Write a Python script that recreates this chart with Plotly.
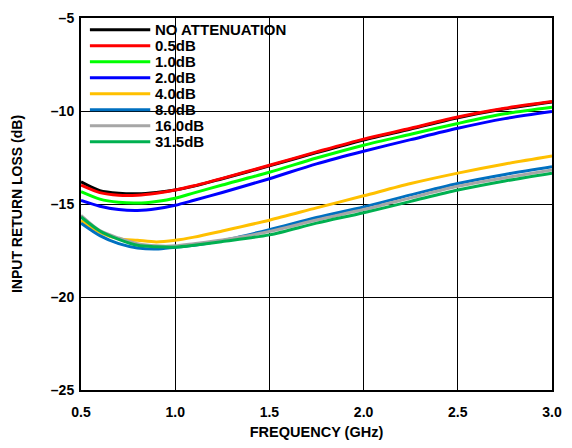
import plotly.graph_objects as go

freq = [0.5, 0.6, 0.7, 0.8, 0.9, 1.0, 1.1, 1.25, 1.5, 1.75, 2.0, 2.25, 2.5, 2.75, 3.0]

no_att = [-13.81, -14.28, -14.42, -14.45, -14.38, -14.25, -14.04, -13.64, -12.95, -12.24, -11.56, -10.97, -10.36, -9.88, -9.51]
att_0p5 = [-13.99, -14.39, -14.53, -14.53, -14.42, -14.25, -14.02, -13.62, -12.92, -12.20, -11.51, -10.93, -10.32, -9.85, -9.49]
att_1p0 = [-14.34, -14.74, -14.91, -14.95, -14.86, -14.69, -14.40, -13.98, -13.29, -12.53, -11.84, -11.25, -10.67, -10.15, -9.80]
att_2p0 = [-14.81, -15.12, -15.30, -15.35, -15.26, -15.07, -14.80, -14.38, -13.64, -12.84, -12.16, -11.54, -10.93, -10.41, -10.03]
att_4p0 = [-15.90, -16.52, -16.86, -16.95, -17.04, -16.95, -16.78, -16.45, -15.87, -15.21, -14.56, -13.90, -13.34, -12.85, -12.42]
att_8p0 = [-16.03, -16.70, -17.13, -17.36, -17.42, -17.32, -17.22, -16.97, -16.38, -15.73, -15.16, -14.51, -13.90, -13.41, -13.00]
att_16p0 = [-15.61, -16.43, -16.83, -17.13, -17.25, -17.25, -17.13, -16.93, -16.48, -15.86, -15.30, -14.67, -14.05, -13.59, -13.17]
att_31p5 = [-15.70, -16.45, -16.90, -17.22, -17.30, -17.32, -17.22, -17.02, -16.66, -16.03, -15.47, -14.86, -14.25, -13.76, -13.34]

series_names = ["NO ATTENUATION", "0.5dB", "1.0dB", "2.0dB", "4.0dB", "8.0dB", "16.0dB", "31.5dB"]
series_values = [no_att, att_0p5, att_1p0, att_2p0, att_4p0, att_8p0, att_16p0, att_31p5]
series_colors = ["#000000", "#ff0000", "#00ff00", "#0000ff", "#ffc000", "#0070c0", "#a6a6a6", "#00b050"]

x_ticks = [0.5, 1.0, 1.5, 2.0, 2.5, 3.0]
x_ticktext = ["0.5", "1.0", "1.5", "2.0", "2.5", "3.0"]
y_ticks = [-25, -20, -15, -10, -5]
y_ticktext = ["\u201325", "\u201320", "\u201315", "\u201310", "\u20135"]

FONT = "Liberation Sans, Arial, sans-serif"

W, H = 572, 448
ML, MR, MT, MB = 81, 15, 10, 56
PW, PH = W - ML - MR, H - MT - MB

fig = go.Figure()
for name, vals, col in zip(series_names, series_values, series_colors):
    fig.add_trace(go.Scatter(
        x=freq, y=vals, name=name, mode="lines", showlegend=False,
        line=dict(color=col, width=3, shape="spline", smoothing=0.8),
    ))

# white panel behind the legend hiding the gridlines
fig.add_shape(type="rect", xref="paper", yref="paper",
              x0=2 / PW, x1=224 / PW, y0=1 - 136 / PH, y1=1 - 1 / PH,
              fillcolor="white", line=dict(width=0), layer="between")

# legend: line samples + labels (layout decoration)
row0, row_step = 12, 16.45
for i, (name, col) in enumerate(zip(series_names, series_colors)):
    yc = 1 - (row0 + i * row_step) / PH
    fig.add_shape(type="line", xref="paper", yref="paper",
                  x0=9 / PW, x1=70 / PW, y0=yc, y1=yc,
                  line=dict(color=col, width=3), layer="above")
    fig.add_annotation(text=name, xref="paper", yref="paper", x=74 / PW, y=yc,
                       xanchor="left", yanchor="middle", showarrow=False,
                       borderpad=0,
                       font=dict(family=FONT, size=15, color="black", weight="bold"))

fig.update_layout(
    width=W, height=H,
    margin=dict(l=ML, r=MR, t=MT, b=MB),
    paper_bgcolor="white", plot_bgcolor="white",
    font=dict(family=FONT, size=13, color="black"),
    showlegend=False,
    xaxis=dict(
        range=[0.5, 3.0], tickvals=x_ticks, ticktext=x_ticktext,
        showgrid=True, gridcolor="black", gridwidth=1,
        showline=True, linecolor="black", linewidth=2, mirror=True,
        ticks="", zeroline=False, ticklabelstandoff=8, ticklabeloverflow="allow",
        tickfont=dict(family=FONT, size=14, color="black", weight="bold"),
        title=dict(text="FREQUENCY (GHz)", standoff=8,
                   font=dict(family=FONT, size=14.5, color="black", weight="bold")),
    ),
    yaxis=dict(
        range=[-25, -5], tickvals=y_ticks, ticktext=y_ticktext,
        showgrid=True, gridcolor="black", gridwidth=1,
        showline=True, linecolor="black", linewidth=2, mirror=True,
        ticks="", zeroline=False, ticklabelstandoff=2, ticklabeloverflow="allow",
        tickfont=dict(family=FONT, size=14, color="black", weight="bold"),
        title=dict(text="INPUT RETURN LOSS (dB)", standoff=25,
                   font=dict(family=FONT, size=14, color="black", weight="bold")),
    ),
)

fig.write_html("out.html", config={"displayModeBar": False},
               post_script="document.body.style.margin='0';")
